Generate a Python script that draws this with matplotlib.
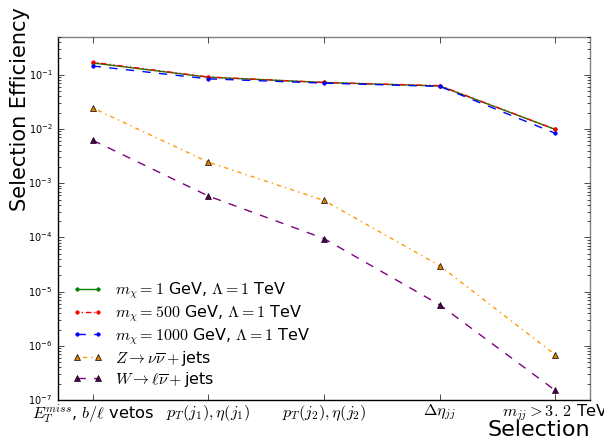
import matplotlib
matplotlib.use("Agg")
import matplotlib.pyplot as plt
import numpy as np

plt.style.use("classic")
plt.rcParams['mathtext.fontset'] = 'cm'
plt.rcParams['font.family'] = ['DejaVu Sans']

cuts = [r"$E_T^{miss}$, $b/\ell$ vetos", r"$p_T(j_1),\eta(j_1)$",
        r"$p_T(j_2),\eta(j_2)$", r"$\Delta\eta_{jj}$", r"$m_{jj}>3.\,2$ TeV"]

sig_m1 = [0.165, 0.090, 0.072, 0.062, 0.0098]
sig_m500 = [0.170, 0.091, 0.072, 0.063, 0.0098]
sig_m1000 = [0.145, 0.084, 0.070, 0.061, 0.0083]
bkg_z = [0.0244, 0.00245, 0.00048, 3.0e-5, 6.8e-7]
bkg_w = [0.0062, 0.00058, 9.5e-5, 5.7e-6, 1.5e-7]

labels = [r"$m_\chi = 1$ GeV, $\Lambda = 1$ TeV",
          r"$m_\chi = 500$ GeV, $\Lambda = 1$ TeV",
          r"$m_\chi = 1000$ GeV, $\Lambda = 1$ TeV",
          r"$Z \rightarrow \nu\overline{\nu} + $jets",
          r"$W \rightarrow \ell\overline{\nu} + $jets"]

fig = plt.figure(figsize=(6.04, 4.44), dpi=100, facecolor='white')
ax = fig.add_axes([0.096, 0.099, 0.881, 0.818])
x = np.arange(len(cuts))

ax.plot(x, sig_m1, color='green', ls='-', marker='.', ms=5, mec='green', label=labels[0])
ax.plot(x, sig_m500, color='red', ls=(0, (1, 2, 1, 2, 4, 2)), marker='.', ms=5, mec='red', label=labels[1])
ax.plot(x, sig_m1000, color='blue', ls='--', marker='.', ms=5, mec='blue', label=labels[2])
ax.plot(x, bkg_z, color='#ff9900', ls=(0, (1, 3, 3, 3)), marker='^', ms=5, mec='black', mfc='#e08000', label=labels[3])
ax.plot(x, bkg_w, color='purple', ls='--', marker='^', ms=5, mec='black', mfc='#550055', label=labels[4])

ax.set_yscale('log')
ax.set_ylim(1e-7, 0.5)
ax.set_xlim(-0.3, 4.3)
ax.set_xticks(x)
ax.set_xticklabels(cuts, fontsize=11.7)
ax.tick_params(axis='y', labelsize=7)
ax.tick_params(axis='x', pad=2)
for s in ['top', 'right']:
    ax.spines[s].set_color('#808080')

ax.set_ylabel("Selection Efficiency", fontsize=15)
ax.yaxis.set_label_coords(-0.052, 0.80)
ax.set_xlabel("Selection", fontsize=16, ha='right', va='top')
ax.xaxis.set_label_coords(1.0, -0.055)

leg = ax.legend(loc='lower left', frameon=False, fontsize=11.5, numpoints=2,
                bbox_to_anchor=(0.0, -0.008), handlelength=1.9, labelspacing=0.125)

fig.savefig("out.png", dpi=100, facecolor='white')
